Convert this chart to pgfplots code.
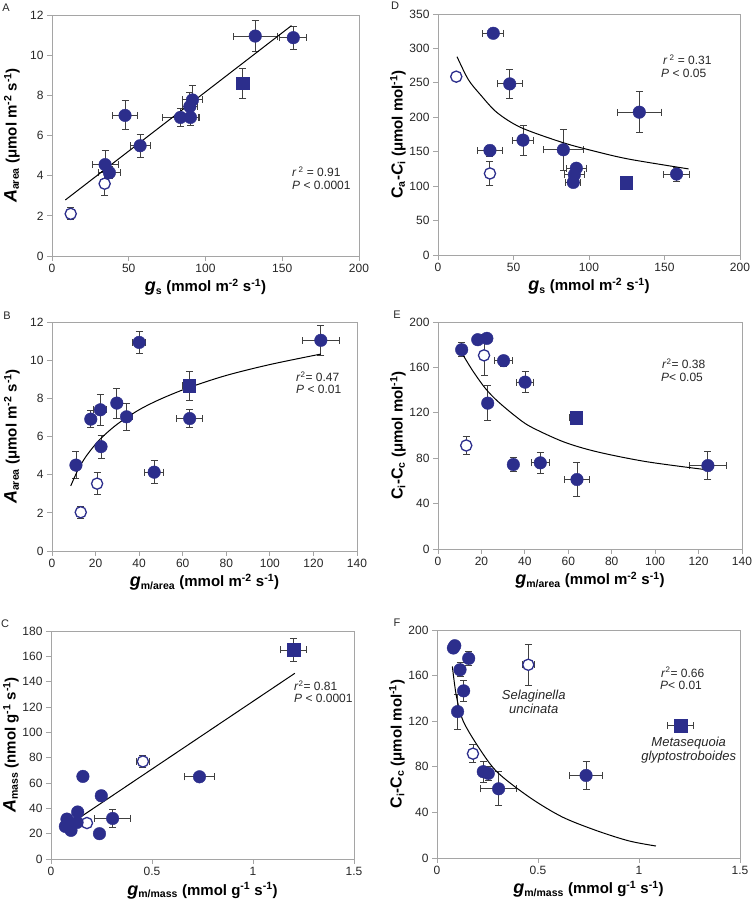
\documentclass[border=0pt]{standalone}
\usepackage{fontspec}
\setmainfont{Liberation Sans}
\usepackage{pgfplots}
\usepackage{pgfplotstable}
\pgfplotsset{compat=1.18}
\definecolor{dblue}{RGB}{44,46,140}
\definecolor{ebar}{RGB}{64,64,64}
\definecolor{frame}{RGB}{165,165,165}

\pgfplotsset{
  panel/.style={
    scale only axis,
    axis line style={draw=frame, line width=0.8pt},
    tick pos=left, tick align=outside,
    major tick length=5pt,
    tick style={draw=frame, line width=0.8pt},
    tick label style={font=\fontsize{12}{14}\selectfont, text=black!85},
    /pgf/number format/assume math mode=true,
    scaled ticks=false,
    xlabel style={font=\fontsize{15}{17}\selectfont\bfseries,
      at={([yshift=-36pt]axis description cs:0.5,0)}, anchor=base},
    ylabel style={font=\fontsize{15}{17}\selectfont\bfseries,
      at={([xshift=-40pt]axis description cs:0,0.5)}, anchor=center},
  },
  ebars/.style={draw=none, mark=none, error bars/.cd, x dir=both, x explicit, y dir=both, y explicit,
    error bar style={draw=ebar, line width=0.9pt},
    error mark options={rotate=90, draw=ebar, line width=0.9pt, mark size=3.5pt}},
  pfill/.style={only marks, mark=*, mark size=6.3pt,
    mark options={draw=dblue, fill=dblue}},
  popen/.style={only marks, mark=*, mark size=5.6pt,
    mark options={draw=dblue, fill=white, line width=1.3pt}},
  psq/.style={only marks, mark=square*, mark size=6.3pt,
    mark options={draw=dblue, fill=dblue}},
  fitline/.style={black, line width=1pt, no markers},
}

% error bars first, then the markers on top
\newcommand{\drawerrs}[3]{%
  \addplot[ebars] table[x=x,y=y,x error=ex,y error=ey] {#1};
  \addplot[ebars] table[x=x,y=y,x error=ex,y error=ey] {#2};
  \addplot[ebars] table[x=x,y=y,x error=ex,y error=ey] {#3};
}
\newcommand{\drawpts}[3]{%
  \addplot[popen] table[x=x,y=y] {#2};
  \addplot[pfill] table[x=x,y=y] {#1};
  \addplot[psq] table[x=x,y=y] {#3};
}

% axis label pieces
\newcommand{\bigv}[1]{{\fontsize{18}{18}\selectfont\itshape #1}}
\newcommand{\bigc}[1]{{\fontsize{16}{18}\selectfont #1}}
\newcommand{\up}[1]{\textsuperscript{#1}}
\newcommand{\dn}[1]{\textsubscript{#1}}
\newcommand{\annot}{\fontsize{12}{14}\selectfont}

% ----- data: filled circles, open circles, square -----
\pgfplotstableread{
x y ex ey
34.6 4.55 8.5 0.7
37.4 4.15 7 0.3
47.6 7.0 8 0.72
57.4 5.49 6.5 0.57
83.7 6.9 12 0.45
90.2 6.9 6 0.4
89.8 7.44 5 0.7
91.5 7.77 6.5 0.72
132.4 10.95 14.5 0.77
157.2 10.87 8.7 0.58
}\Afill
\pgfplotstableread{
x y ex ey
12.2 2.1 1.5 0.3
34.3 3.6 2 0.6
}\Aopen
\pgfplotstableread{
x y ex ey
124.3 8.6 3 0.75
}\Asq

\pgfplotstableread{
x y ex ey
34.4 151.8 8.3 8
36.6 322 7 6
47.5 248.5 8.4 21
56.3 166.8 7 22
83 152.8 13 30
91.6 126 6.6 5
90.3 116.5 6.6 5
89.6 105.4 5 5
133.3 207.4 14.5 30
158 117.5 8.7 10
}\Dfill
\pgfplotstableread{
x y ex ey
12.1 259 1 3
34.4 118.4 1 17
}\Dopen
\pgfplotstableread{
x y ex ey
124.7 105 2 3
}\Dsq

\pgfplotstableread{
x y ex ey
11.0 4.5 1 0.7
17.8 6.91 2 0.45
22.2 7.4 3 0.82
22.5 5.47 1.5 0.6
29.75 7.75 2 0.78
34.2 7.03 2.5 0.72
40.0 10.93 3 0.58
46.9 4.13 4.4 0.6
63.2 6.94 6 0.47
123.4 11.04 8.6 0.78
}\Bfill
\pgfplotstableread{
x y ex ey
13.2 2.03 1.5 0.3
20.7 3.53 1 0.57
}\Bopen
\pgfplotstableread{
x y ex ey
63.0 8.66 3 0.77
}\Bsq

\pgfplotstableread{
x y ex ey
10.9 175.6 1 6
18.3 184.4 1 3
22.5 185.6 2 3
22.9 128.5 1 15.5
30.2 165.9 4 5
40.1 147 4 9.5
34.7 74.4 1.5 6
47.1 75.9 4 9
64.0 61.2 5.7 15
124.3 73.5 8.6 12.5
}\Efill
\pgfplotstableread{
x y ex ey
21.2 170.6 1 18
13.0 91.2 1 8
}\Eopen
\pgfplotstableread{
x y ex ey
63.7 115.6 3 3
}\Esq

\pgfplotstableread{
x y ex ey
0.079 31.5 0.01 2
0.071 25.7 0.01 2
0.099 22.6 0.01 2
0.129 28.9 0.01 2
0.132 37.1 0.01 2
0.158 65.2 0.02 3
0.249 49.9 0.02 4
0.240 20 0.01 2
0.305 32 0.088 7
0.735 64.9 0.074 3
}\Cfill
\pgfplotstableread{
x y ex ey
0.178 28.4 0.01 2
0.455 77 0.03 5
}\Copen
\pgfplotstableread{
x y ex ey
1.2 165 0.065 9
}\Csq

\pgfplotstableread{
x y ex ey
0.081 184.2 0.005 3
0.088 186.2 0.005 3
0.157 175.1 0.02 6
0.114 165.1 0.01 6
0.132 146.6 0.01 9.5
0.102 128.4 0.01 15.5
0.229 75.7 0.02 9
0.254 74.2 0.02 6
0.305 60.7 0.088 15
0.738 72.4 0.08 12.5
}\Ffill
\pgfplotstableread{
x y ex ey
0.452 169.5 0.03 18
0.178 91.5 0.01 8
}\Fopen
\pgfplotstableread{
x y ex ey
1.206 116.1 0.065 3
}\Fsq

\begin{document}
\begin{tikzpicture}
\path[use as bounding box] (0pt,0pt) rectangle (754pt,900pt);

% ---------- A ----------
\begin{axis}[panel, at={(52pt,644pt)}, anchor=south west,
  width=307pt, height=241pt,
  xmin=0, xmax=200, ymin=0, ymax=12,
  xtick={0,50,...,200}, ytick={0,2,...,12},
  xlabel={\bigv{g}\dn{s} (mmol m\up{-2} s\up{-1})},
  ylabel={\bigv{A}\dn{area} (μmol m\up{-2} s\up{-1})}]
\drawerrs{\Afill}{\Aopen}{\Asq}
\addplot[fitline] coordinates {(8.7,2.79) (156,11.47)};
\drawpts{\Afill}{\Aopen}{\Asq}
\end{axis}

% ---------- D ----------
\begin{axis}[panel, at={(438pt,645pt)}, anchor=south west,
  width=302pt, height=241pt,
  xmin=0, xmax=200, ymin=0, ymax=350,
  xtick={0,50,...,200}, ytick={0,50,...,350},
  xlabel={\bigv{g}\dn{s} (mmol m\up{-2} s\up{-1})},
  ylabel={\bigc{C}\dn{a}-\bigc{\itshape C}\dn{i} (μmol mol\up{-1})}]
\drawerrs{\Dfill}{\Dopen}{\Dsq}
\addplot[fitline, smooth] coordinates {
  (12.6,288) (20,255) (28,233) (39,207) (55,185) (83,163)
  (105,150) (127,139) (166,125)};
\drawpts{\Dfill}{\Dopen}{\Dsq}
\end{axis}

% ---------- B ----------
\begin{axis}[panel, at={(52pt,349pt)}, anchor=south west,
  width=305pt, height=229pt,
  xmin=0, xmax=140, ymin=0, ymax=12,
  xtick={0,20,...,140}, ytick={0,2,...,12},
  xlabel={\bigv{g}\dn{m/area} (mmol m\up{-2} s\up{-1})},
  ylabel={\bigv{A}\dn{area} (μmol m\up{-2} s\up{-1})}]
\drawerrs{\Bfill}{\Bopen}{\Bsq}
\addplot[fitline, smooth] coordinates {
  (8.6,3.41) (12,4.27) (16,5.02) (22,5.85) (30,6.65) (40,7.40)
  (50,7.97) (63,8.57) (80,9.20) (100,9.77) (123.4,10.32)};
\drawpts{\Bfill}{\Bopen}{\Bsq}
\end{axis}

% ---------- E ----------
\begin{axis}[panel, at={(438pt,351pt)}, anchor=south west,
  width=304pt, height=227pt,
  xmin=0, xmax=140, ymin=0, ymax=200,
  xtick={0,20,...,140}, ytick={0,40,...,200},
  xlabel={\bigv{g}\dn{m/area} (mmol m\up{-2} s\up{-1})},
  ylabel={\bigc{C}\dn{i}-\bigc{C}\dn{c} (μmol mol\up{-1})}]
\drawerrs{\Efill}{\Eopen}{\Esq}
\addplot[fitline, smooth] coordinates {
  (11.5,171) (16,157) (21.6,142) (27,131) (35,118) (42.4,108)
  (57.7,94.5) (73.1,85.7) (96.1,76.9) (125,69.5)};
\drawpts{\Efill}{\Eopen}{\Esq}
\end{axis}

% ---------- C ----------
\begin{axis}[panel, at={(51pt,41pt)}, anchor=south west,
  width=303pt, height=228pt,
  xmin=0, xmax=1.5, ymin=0, ymax=180,
  xtick={0,0.5,1,1.5}, ytick={0,20,...,180},
  xlabel={\bigv{g}\dn{m/mass} (mmol g\up{-1} s\up{-1})},
  ylabel={\bigv{A}\dn{mass} (nmol g\up{-1} s\up{-1})}]
\drawerrs{\Cfill}{\Copen}{\Csq}
\addplot[fitline] coordinates {(0.084,26.5) (1.207,146.6)};
\drawpts{\Cfill}{\Copen}{\Csq}
\end{axis}

% ---------- F ----------
\begin{axis}[panel, at={(437pt,42pt)}, anchor=south west,
  width=303pt, height=228pt,
  xmin=0, xmax=1.5, ymin=0, ymax=200,
  xtick={0,0.5,1,1.5}, ytick={0,40,...,200},
  xlabel={\bigv{g}\dn{m/mass} (mmol g\up{-1} s\up{-1})},
  ylabel={\bigc{C}\dn{i}-\bigc{C}\dn{c} (μmol mol\up{-1})}]
\drawerrs{\Ffill}{\Fopen}{\Fsq}
\addplot[fitline, smooth] coordinates {
  (0.076,168) (0.096,142) (0.13,120) (0.21,96) (0.30,75) (0.46,53)
  (0.62,36) (0.79,24) (0.95,15) (1.084,10.5)};
\drawpts{\Ffill}{\Fopen}{\Fsq}
\end{axis}

% panel letters
\begin{scope}[every node/.style={font=\fontsize{11}{13}\selectfont, text=black!85}]
\node at (6pt,892pt) {A};
\node at (395pt,894pt) {D};
\node at (7pt,584pt) {B};
\node at (397pt,585pt) {E};
\node at (5pt,276pt) {C};
\node at (397pt,277pt) {F};
\end{scope}

% statistics
\begin{scope}[every node/.style={font=\annot, anchor=base west, inner sep=0pt, text=black!85}]
\node at (292pt,723.3pt) {\textit{r}\,\up{2} = 0.91};
\node at (292pt,710.7pt) {\textit{P} < 0.0001};
\node at (663pt,835pt) {\textit{r}\,\up{2} = 0.31};
\node at (661pt,822.7pt) {\textit{P} < 0.05};
\node at (296pt,518.5pt) {\textit{r}\up{2}= 0.47};
\node at (296pt,506.5pt) {\textit{P} < 0.01};
\node at (662pt,531pt) {\textit{r}\up{2}= 0.38};
\node at (661pt,518.3pt) {\textit{P}< 0.05};
\node at (294pt,209.5pt) {\textit{r}\up{2}= 0.81};
\node at (294pt,197.5pt) {\textit{P} < 0.0001};
\node at (661pt,222.7pt) {\textit{r}\up{2}= 0.66};
\node at (660pt,210pt) {\textit{P}< 0.01};
\end{scope}

% species names
\node[align=center, font=\fontsize{13}{14}\selectfont\itshape, text=black!85]
  at (533.7pt,198pt) {Selaginella\\uncinata};
\node[align=center, font=\fontsize{13}{14}\selectfont\itshape, text=black!85]
  at (688.7pt,150pt) {Metasequoia\\glyptostroboides};
\end{tikzpicture}
\end{document}
